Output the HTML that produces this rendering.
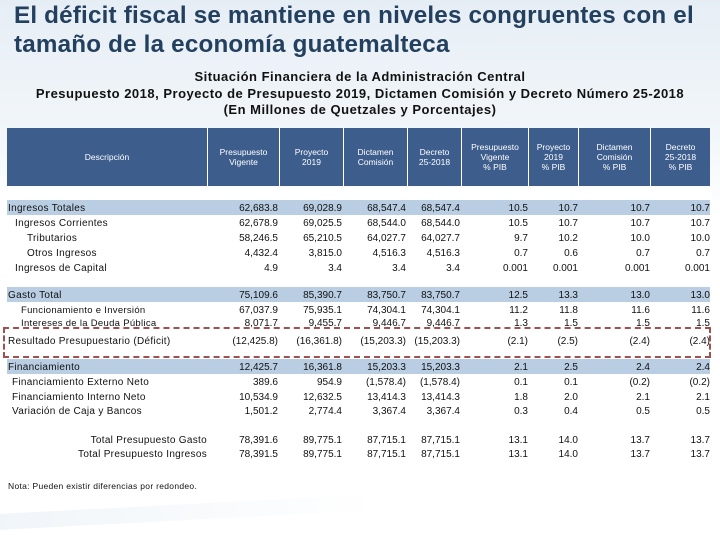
<!DOCTYPE html>
<html><head><meta charset="utf-8">
<style>
body{margin:0;width:720px;height:540px;overflow:hidden;font-family:"Liberation Sans",sans-serif;}
#slide{position:relative;width:720px;height:540px;background:linear-gradient(180deg,#e6eef5 0%,#f2f6fa 25%,#ffffff 40%,#ffffff 100%);overflow:hidden;}
.swoosh{position:absolute;left:-40px;top:505px;width:420px;height:16px;background:linear-gradient(90deg,#e4edf5,#ffffff);transform:rotate(-3deg);opacity:.6;}
.panel{position:absolute;left:0;top:188px;width:712px;height:308px;background:#fff;}
h1{position:absolute;left:14px;top:1px;margin:0;font-size:24.2px;line-height:29px;color:#23405f;font-weight:bold;letter-spacing:.2px;}
.sub{position:absolute;left:0;width:720px;text-align:center;font-size:13px;letter-spacing:.5px;font-weight:bold;color:#111;}
.hdr{position:absolute;top:128px;height:58px;background:#3d5d8c;}
.hc{position:absolute;top:128px;height:58px;display:flex;align-items:center;justify-content:center;text-align:center;color:#fff;font-size:8.5px;line-height:10px;border-left:1px solid #fff;box-sizing:border-box;}
.band{position:absolute;left:7px;width:703px;height:15px;background:#b9cde3;}
.cell{position:absolute;font-size:10px;color:#111;text-align:right;white-space:nowrap;}
.lab{position:absolute;font-size:10px;color:#111;white-space:nowrap;letter-spacing:.3px;}
.box{position:absolute;left:3px;top:327px;width:708px;height:31px;border:2px dashed #a0504e;box-sizing:border-box;}
</style></head>
<body>
<div id="slide">
<div class="swoosh"></div>
<div class="panel"></div>
<h1>El déficit fiscal se mantiene en niveles congruentes con el<br>tamaño de la economía guatemalteca</h1>
<div class="sub" style="top:69px">Situación Financiera de la Administración Central</div>
<div class="sub" style="top:86px">Presupuesto 2018, Proyecto de Presupuesto 2019, Dictamen Comisión y Decreto Número 25-2018</div>
<div class="sub" style="top:102px">(En Millones de Quetzales y Porcentajes)</div>
<div class="hdr" style="left:7px;width:703px"></div>
<div id="tbl"></div>
<div class="box"></div>
<div class="lab" style="left:8px;top:481px;font-size:8.5px">Nota: Pueden existir diferencias por redondeo.</div>
</div>
<script>
const headers=["Descripción","Presupuesto<br>Vigente","Proyecto<br>2019","Dictamen<br>Comisión","Decreto<br>25-2018","Presupuesto<br>Vigente<br>% PIB","Proyecto<br>2019<br>% PIB","Dictamen<br>Comisión<br>% PIB","Decreto<br>25-2018<br>% PIB"];
const labels=["Ingresos Totales","Ingresos Corrientes","Tributarios","Otros Ingresos","Ingresos de Capital","Gasto Total","Funcionamiento e Inversión","Intereses de la Deuda Pública","Resultado Presupuestario (Déficit)","Financiamiento","Financiamiento Externo Neto","Financiamiento Interno Neto","Variación de Caja y Bancos","Total Presupuesto Gasto","Total Presupuesto Ingresos"];
const presVigente=["62,683.8","62,678.9","58,246.5","4,432.4","4.9","75,109.6","67,037.9","8,071.7","(12,425.8)","12,425.7","389.6","10,534.9","1,501.2","78,391.6","78,391.5"];
const proyecto2019=["69,028.9","69,025.5","65,210.5","3,815.0","3.4","85,390.7","75,935.1","9,455.7","(16,361.8)","16,361.8","954.9","12,632.5","2,774.4","89,775.1","89,775.1"];
const dictamen=["68,547.4","68,544.0","64,027.7","4,516.3","3.4","83,750.7","74,304.1","9,446.7","(15,203.3)","15,203.3","(1,578.4)","13,414.3","3,367.4","87,715.1","87,715.1"];
const decreto=["68,547.4","68,544.0","64,027.7","4,516.3","3.4","83,750.7","74,304.1","9,446.7","(15,203.3)","15,203.3","(1,578.4)","13,414.3","3,367.4","87,715.1","87,715.1"];
const pibVigente=["10.5","10.5","9.7","0.7","0.001","12.5","11.2","1.3","(2.1)","2.1","0.1","1.8","0.3","13.1","13.1"];
const pibProyecto=["10.7","10.7","10.2","0.6","0.001","13.3","11.8","1.5","(2.5)","2.5","0.1","2.0","0.4","14.0","14.0"];
const pibDictamen=["10.7","10.7","10.0","0.7","0.001","13.0","11.6","1.5","(2.4)","2.4","(0.2)","2.1","0.5","13.7","13.7"];
const pibDecreto=["10.7","10.7","10.0","0.7","0.001","13.0","11.6","1.5","(2.4)","2.4","(0.2)","2.1","0.5","13.7","13.7"];
const series=[presVigente,proyecto2019,dictamen,decreto,pibVigente,pibProyecto,pibDictamen,pibDecreto];
const colEdges=[7,207,279,343,407,461,528,578,650,710];
const rowY=[203,218,233,248,263,290,305,318,336,362,377,392,406,435,449];
const indent=[1,8,20,20,8,1,14,14,1,1,5,5,5,0,0];
const banded=[0,5,9];
const rightLabel=[13,14];
const tbl=document.getElementById('tbl');
banded.forEach(i=>{const b=document.createElement('div');b.className='band';b.style.top=(rowY[i]-3)+'px';


tbl.appendChild(b);});
headers.forEach((h,i)=>{const d=document.createElement('div');d.className='hc';d.style.left=colEdges[i]+'px';d.style.width=(colEdges[i+1]-colEdges[i])+'px';if(i==0)d.style.borderLeft='none';d.innerHTML=h;


tbl.appendChild(d);});
labels.forEach((l,i)=>{const d=document.createElement('div');d.className='lab';d.textContent=l;d.style.top=rowY[i]+'px';
if(rightLabel.includes(i)){d.style.right=(720-207)+'px';}else{d.style.left=(7+indent[i])+'px';}
if(i==6||i==7)d.style.fontSize='9.5px';


tbl.appendChild(d);});
series.forEach((s,c)=>{s.forEach((v,i)=>{const d=document.createElement('div');d.className='cell';d.textContent=v;d.style.top=rowY[i]+'px';d.style.right=(720-colEdges[c+2]+(c<4?1:0))+'px';


tbl.appendChild(d);});});
</script>
</body></html>
